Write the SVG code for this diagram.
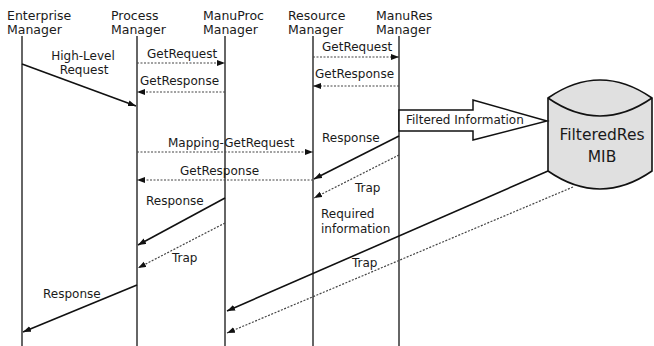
<svg xmlns="http://www.w3.org/2000/svg" width="654" height="346" viewBox="0 0 654 346">
<style>
text{font-family:"DejaVu Sans",Verdana,sans-serif;font-size:12px;fill:#1a1a1a}
.h{font-size:12.5px}
.life{stroke:#333;stroke-width:1.5;fill:none}
.solid{stroke:#111;stroke-width:1.6;fill:none}
.dot{stroke:#444;stroke-width:1.2;stroke-dasharray:2 1.5;fill:none}
.c{text-anchor:middle}
</style>
<defs>
<marker id="ah" markerUnits="userSpaceOnUse" markerWidth="9" markerHeight="7" refX="8" refY="3" orient="auto">
<path d="M0,0 L8,3 L0,6 z" fill="#111"/>
</marker>
</defs>
<rect width="654" height="346" fill="#fff"/>
<g id="enterprise-manager">
<text class="h" x="7" y="20">Enterprise</text><text class="h" x="7" y="34">Manager</text>
<line class="life" x1="22" y1="36" x2="22" y2="346"/>
</g>
<g id="process-manager">
<text class="h" x="111" y="20">Process</text><text class="h" x="111" y="34">Manager</text>
<line class="life" x1="137" y1="36" x2="137" y2="346"/>
</g>
<g id="manuproc-manager">
<text class="h" x="203" y="20">ManuProc</text><text class="h" x="203" y="34">Manager</text>
<line class="life" x1="225" y1="36" x2="225" y2="346"/>
</g>
<g id="resource-manager">
<text class="h" x="288" y="20">Resource</text><text class="h" x="288" y="34">Manager</text>
<line class="life" x1="313" y1="36" x2="313" y2="346"/>
</g>
<g id="manures-manager">
<text class="h" x="376" y="20">ManuRes</text><text class="h" x="376" y="34">Manager</text>
<line class="life" x1="399" y1="36" x2="399" y2="346"/>
</g>
<g id="filteredres-mib">
<path d="M548,98 Q600,62 652,98 L652,171 Q600,207 548,171 Z" fill="#e0e0e0" stroke="#111" stroke-width="1.6"/>
<path d="M548,98 Q600,134 652,98" fill="none" stroke="#111" stroke-width="1.6"/>
<text class="c" x="602" y="140" style="font-size:15.5px">FilteredRes</text>
<text class="c" x="602" y="162" style="font-size:15.5px">MIB</text>
</g>
<g id="connectors">
<line class="solid" x1="22" y1="64" x2="136" y2="106" marker-end="url(#ah)"/>
<line class="dot" x1="137" y1="63" x2="225" y2="63" marker-end="url(#ah)"/>
<line class="dot" x1="225" y1="92" x2="137" y2="92" marker-end="url(#ah)"/>
<line class="dot" x1="313" y1="57" x2="399" y2="57" marker-end="url(#ah)"/>
<line class="dot" x1="399" y1="86" x2="313" y2="86" marker-end="url(#ah)"/>
<polygon points="399,110 473,110 473,100 547,121 473,140 473,131 399,131" fill="#fff" stroke="#111" stroke-width="1.5"/>
<line class="solid" x1="399" y1="136" x2="314" y2="179" marker-end="url(#ah)"/>
<line class="dot" x1="137" y1="152" x2="313" y2="152" marker-end="url(#ah)"/>
<line class="dot" x1="313" y1="180" x2="137" y2="180" marker-end="url(#ah)"/>
<line class="dot" x1="399" y1="155" x2="314" y2="198" marker-end="url(#ah)"/>
<line class="solid" x1="225" y1="198" x2="138" y2="245" marker-end="url(#ah)"/>
<line class="dot" x1="225" y1="223" x2="138" y2="268" marker-end="url(#ah)"/>
<line class="solid" x1="137" y1="285" x2="23" y2="332" marker-end="url(#ah)"/>
<line class="solid" x1="548" y1="171" x2="227" y2="311" marker-end="url(#ah)"/>
<line class="dot" x1="573" y1="187" x2="227" y2="333" marker-end="url(#ah)"/>
</g>
<g id="labels">
<text class="c" x="83" y="60">High-Level</text>
<text class="c" x="84" y="74">Request</text>
<text x="147" y="58">GetRequest</text>
<text x="140" y="85">GetResponse</text>
<text x="322" y="51">GetRequest</text>
<text x="315" y="78">GetResponse</text>
<text x="406" y="124">Filtered Information</text>
<text x="322" y="142">Response</text>
<text x="168" y="147">Mapping-GetRequest</text>
<text x="180" y="175">GetResponse</text>
<text x="355" y="192">Trap</text>
<text x="321" y="218">Required</text>
<text x="321" y="233">information</text>
<text x="146" y="205">Response</text>
<text x="172" y="262">Trap</text>
<text x="43" y="298">Response</text>
<text x="352" y="267">Trap</text>
</g>
</svg>
